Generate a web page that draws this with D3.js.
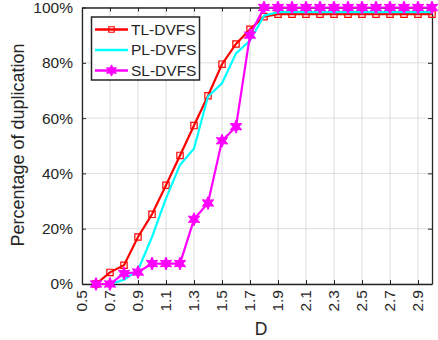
<!DOCTYPE html>
<html>
<head>
<meta charset="utf-8">
<script src="https://cdn.jsdelivr.net/npm/d3@7"></script>
<style>
  body { margin: 0; background: #fff; }
  text { font-family: "Liberation Sans", Arial, sans-serif; fill: #262626; }
</style>
</head>
<body>
<div id="chart"></div>
<script>
var dVals = [0.6, 0.7, 0.8, 0.9, 1.0, 1.1, 1.2, 1.3, 1.4, 1.5, 1.6, 1.7, 1.8,
             1.9, 2.0, 2.1, 2.2, 2.3, 2.4, 2.5, 2.6, 2.7, 2.8, 2.9, 3.0];
var tlVals = [0, 4.2, 6.8, 17, 25.2, 35.7, 46.5, 57.3, 68.1, 79.5, 86.8, 92.1, 96.7,
              97.6, 97.6, 97.6, 97.6, 97.6, 97.6, 97.6, 97.6, 97.6, 97.6, 97.6, 97.6];
var plVals = [null, 0, 1.5, 5, 17, 31, 43, 49, 67.8, 72.6, 83.4, 88, 97,
              98.3, 98.3, 98.3, 98.3, 98.3, 98.3, 98.3, 98.3, 98.3, 98.3, 98.3, 98.3];
var slVals = [0, 0, 3.8, 4.3, 7.4, 7.4, 7.4, 23.4, 29.3, 51.8, 56.9, 90, 100,
              100, 100, 100, 100, 100, 100, 100, 100, 100, 100, 100, 100];
var seriesNames = ["TL-DVFS", "PL-DVFS", "SL-DVFS"];
var xTicks = [0.5, 0.7, 0.9, 1.1, 1.3, 1.5, 1.7, 1.9, 2.1, 2.3, 2.5, 2.7, 2.9];
var yTicks = [0, 20, 40, 60, 80, 100];

function drawChart() {
  var width = 438, height = 340;
  var pLeft = 82, pRight = 432, pTop = 7.5, pBottom = 284;

  var svg = d3.select("#chart").append("svg")
    .attr("width", width)
    .attr("height", height);

  var xScale = d3.scaleLinear().domain([0.5, 3.0]).range([pLeft, pRight]);
  var yScale = d3.scaleLinear().domain([0, 100]).range([pBottom, pTop]);

  //grid
  svg.append("g").selectAll("line").data(xTicks).enter().append("line")
    .attr("x1", function(d) { return xScale(d); })
    .attr("x2", function(d) { return xScale(d); })
    .attr("y1", pTop).attr("y2", pBottom)
    .attr("stroke", "#dedede").attr("stroke-width", 1);
  svg.append("g").selectAll("line").data(yTicks).enter().append("line")
    .attr("y1", function(d) { return yScale(d); })
    .attr("y2", function(d) { return yScale(d); })
    .attr("x1", pLeft).attr("x2", pRight)
    .attr("stroke", "#dedede").attr("stroke-width", 1);

  //axes (inner ticks like matlab)
  var xAxis = d3.axisBottom(xScale).tickValues(xTicks).tickSize(-4).tickSizeOuter(0).tickFormat("");
  var xAxisTop = d3.axisTop(xScale).tickValues(xTicks).tickSize(-4).tickSizeOuter(0).tickFormat("");
  var yAxis = d3.axisLeft(yScale).tickValues(yTicks).tickSize(-4).tickSizeOuter(0).tickFormat("");
  var yAxisRight = d3.axisRight(yScale).tickValues(yTicks).tickSize(-4).tickSizeOuter(0).tickFormat("");

  svg.append("g").attr("transform", "translate(0," + pBottom + ")").call(xAxis);
  svg.append("g").attr("transform", "translate(0," + pTop + ")").call(xAxisTop);
  svg.append("g").attr("transform", "translate(" + pLeft + ",0)").call(yAxis);
  svg.append("g").attr("transform", "translate(" + pRight + ",0)").call(yAxisRight);
  svg.selectAll(".domain").attr("stroke", "#262626").attr("stroke-width", 1.3);
  svg.selectAll(".tick line").attr("stroke", "#262626");

  //tick labels
  svg.append("g").selectAll("text").data(xTicks).enter().append("text")
    .attr("transform", function(d) { return "translate(" + xScale(d) + "," + (pBottom + 6) + ") rotate(-90)"; })
    .attr("text-anchor", "end")
    .attr("dy", "0.33em")
    .style("font-size", "15.5px")
    .text(function(d) { return d.toFixed(1); });

  svg.append("g").selectAll("text").data(yTicks).enter().append("text")
    .attr("x", pLeft - 9)
    .attr("y", function(d) { return yScale(d); })
    .attr("dy", "0.35em")
    .attr("text-anchor", "end")
    .style("font-size", "15.5px")
    .text(function(d) { return d + "%"; });

  svg.append("text")
    .attr("transform", "translate(24,145) rotate(-90)")
    .attr("text-anchor", "middle")
    .style("font-size", "18px")
    .text("Percentage of duplication");

  svg.append("text")
    .attr("x", 261).attr("y", 335)
    .attr("text-anchor", "middle")
    .style("font-size", "17.5px")
    .text("D");

  // six pointed star symbol
  var hexagram = {
    draw: function(context, size) {
      var r = Math.sqrt(size) * 0.62, ri = r * 0.5;
      for (var i = 0; i < 12; i++) {
        var a = Math.PI / 6 * i - Math.PI / 2;
        var rr = i % 2 === 0 ? r : ri;
        if (i === 0) context.moveTo(rr * Math.cos(a), rr * Math.sin(a));
        else context.lineTo(rr * Math.cos(a), rr * Math.sin(a));
      }
      context.closePath();
    }
  };

  var line = d3.line()
    .defined(function(d) { return d[1] !== null; })
    .x(function(d) { return xScale(d[0]); })
    .y(function(d) { return yScale(d[1]); });

  function pairs(vals) {
    return dVals.map(function(d, i) { return [d, vals[i]]; });
  }

  var series = [
    { name: seriesNames[0], vals: tlVals, color: "#ff0000", marker: "square" },
    { name: seriesNames[1], vals: plVals, color: "#00ffff", marker: null },
    { name: seriesNames[2], vals: slVals, color: "#ff00ff", marker: "star" }
  ];

  function drawMarker(g, s, x, y, scale) {
    if (s.marker === "square") {
      g.append("path").attr("d", d3.symbol().type(d3.symbolSquare).size(40 * scale))
        .attr("transform", "translate(" + x + "," + y + ")")
        .attr("fill", "none").attr("stroke", s.color).attr("stroke-width", 1.2);
    } else if (s.marker === "star") {
      g.append("path").attr("d", d3.symbol().type(hexagram).size(110 * scale))
        .attr("transform", "translate(" + x + "," + y + ")")
        .attr("fill", s.color).attr("stroke", s.color).attr("stroke-width", 1);
    }
  }

  series.forEach(function(s) {
    var data = pairs(s.vals);
    var g = svg.append("g");
    g.append("path").datum(data)
      .attr("d", line)
      .attr("fill", "none")
      .attr("stroke", s.color)
      .attr("stroke-width", 2.2);
    data.filter(function(d) { return d[1] !== null; }).forEach(function(d) {
      drawMarker(g, s, xScale(d[0]), yScale(d[1]), 1);
    });
  });

  //legend
  var legend = svg.append("g");
  legend.append("rect")
    .attr("x", 91.5).attr("y", 17).attr("width", 108).attr("height", 63)
    .attr("fill", "#fff").attr("stroke", "#262626").attr("stroke-width", 1.5);
  series.forEach(function(s, i) {
    var y = 29.5 + i * 20.5;
    legend.append("line")
      .attr("x1", 95).attr("x2", 128).attr("y1", y).attr("y2", y)
      .attr("stroke", s.color).attr("stroke-width", 2.5);
    drawMarker(legend, s, 111.5, y, 0.75);
    legend.append("text")
      .attr("x", 131).attr("y", y).attr("dy", "0.35em")
      .style("font-size", "15.5px")
      .text(s.name);
  });
}

drawChart();
</script>
</body>
</html>
